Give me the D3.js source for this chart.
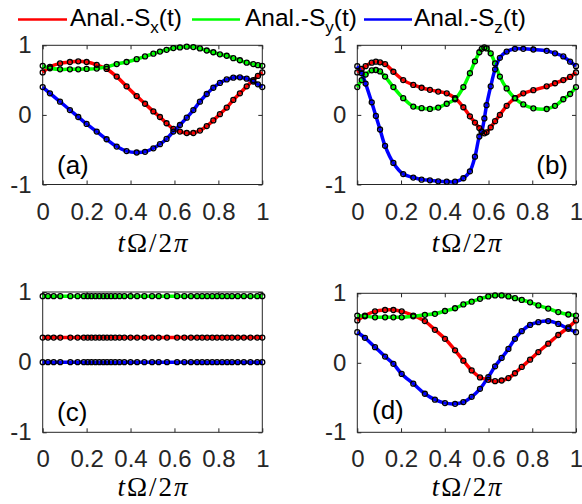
<!DOCTYPE html>
<html><head><meta charset="utf-8">
<script src="https://cdn.jsdelivr.net/npm/d3@7"></script>
<style>
html,body{margin:0;padding:0;background:#fff;}
svg{display:block;}
</style>
</head><body>
<svg id="chart" width="582" height="504"></svg>
<script>
// ---------- data ----------
const seriesNames = ["Anal.-S", "Anal.-S", "Anal.-S"];
const seriesSubs = ["x", "y", "z"];
const seriesColors = ["#ff0000", "#00ff00", "#0000ff"];
const panelLabels = ["(a)", "(b)", "(c)", "(d)"];
const xTickValues = [0, 0.2, 0.4, 0.6, 0.8, 1];
const xTickLabels = ["0", "0.2", "0.4", "0.6", "0.8", "1"];
const yTickValues = [-1, 0, 1];
const yTickLabels = ["-1", "0", "1"];

// panel (a)
const tA  = [0, 0.033, 0.079, 0.124, 0.162, 0.2, 0.246, 0.291, 0.337, 0.382, 0.428, 0.466, 0.504, 0.534, 0.564, 0.595, 0.625, 0.656, 0.686, 0.716, 0.747, 0.777, 0.807, 0.838, 0.868, 0.898, 0.929, 0.959, 0.98, 1];
const sxA = [0.61, 0.69, 0.74, 0.76, 0.77, 0.76, 0.72, 0.66, 0.55, 0.41, 0.27, 0.16, 0.05, -0.03, -0.12, -0.20, -0.24, -0.26, -0.26, -0.225, -0.16, -0.08, 0.01, 0.105, 0.215, 0.31, 0.41, 0.50, 0.56, 0.61];
const syA = [0.705, 0.67, 0.655, 0.655, 0.655, 0.66, 0.665, 0.69, 0.73, 0.76, 0.80, 0.84, 0.88, 0.91, 0.935, 0.96, 0.97, 0.98, 0.975, 0.955, 0.925, 0.90, 0.87, 0.85, 0.815, 0.785, 0.75, 0.73, 0.715, 0.705];
const szA = [0.40, 0.31, 0.19, 0.07, -0.03, -0.13, -0.24, -0.35, -0.455, -0.52, -0.54, -0.53, -0.48, -0.42, -0.345, -0.24, -0.145, -0.04, 0.07, 0.19, 0.30, 0.39, 0.46, 0.51, 0.535, 0.54, 0.52, 0.48, 0.44, 0.40];

// panel (b)
const tB  = [0, 0.020, 0.038, 0.066, 0.085, 0.104, 0.127, 0.165, 0.210, 0.256, 0.294, 0.332, 0.370, 0.409, 0.447, 0.485, 0.515, 0.538, 0.558, 0.569, 0.581, 0.591, 0.610, 0.630, 0.652, 0.683, 0.721, 0.759, 0.805, 0.866, 0.904, 0.942, 0.973, 1];
const sxB = [0.61, 0.66, 0.70, 0.75, 0.765, 0.755, 0.73, 0.62, 0.50, 0.43, 0.39, 0.36, 0.335, 0.31, 0.24, 0.11, -0.02, -0.11, -0.19, -0.24, -0.265, -0.25, -0.18, -0.09, 0.0, 0.13, 0.24, 0.31, 0.355, 0.41, 0.455, 0.50, 0.545, 0.61];
const syB = [0.40, 0.50, 0.58, 0.64, 0.645, 0.625, 0.55, 0.40, 0.24, 0.12, 0.096, 0.086, 0.105, 0.16, 0.225, 0.40, 0.60, 0.77, 0.90, 0.95, 0.97, 0.955, 0.885, 0.74, 0.55, 0.38, 0.24, 0.15, 0.095, 0.085, 0.13, 0.225, 0.30, 0.40];
const szB = [0.70, 0.60, 0.45, 0.18, -0.015, -0.21, -0.445, -0.69, -0.85, -0.90, -0.93, -0.94, -0.955, -0.96, -0.96, -0.91, -0.81, -0.60, -0.31, -0.24, -0.05, 0.14, 0.41, 0.655, 0.82, 0.91, 0.95, 0.95, 0.94, 0.92, 0.885, 0.84, 0.765, 0.70];

// panel (c)
const tC  = [0, 0.024, 0.05, 0.08, 0.126, 0.159, 0.187, 0.205, 0.222, 0.24, 0.258, 0.276, 0.293, 0.311, 0.33, 0.35, 0.372, 0.4, 0.43, 0.463, 0.498, 0.528, 0.566, 0.612, 0.645, 0.675, 0.703, 0.726, 0.749, 0.772, 0.794, 0.817, 0.84, 0.862, 0.888, 0.916, 0.946, 0.977, 1];
const sxC = [0.35, 0.35, 0.35, 0.35, 0.35, 0.35, 0.35, 0.35, 0.35, 0.35, 0.35, 0.35, 0.35, 0.35, 0.35, 0.35, 0.35, 0.35, 0.35, 0.35, 0.35, 0.35, 0.35, 0.35, 0.35, 0.35, 0.35, 0.35, 0.35, 0.35, 0.35, 0.35, 0.35, 0.35, 0.35, 0.35, 0.35, 0.35, 0.35];
const syC = [0.94, 0.94, 0.94, 0.94, 0.94, 0.94, 0.94, 0.94, 0.94, 0.94, 0.94, 0.94, 0.94, 0.94, 0.94, 0.94, 0.94, 0.94, 0.94, 0.94, 0.94, 0.94, 0.94, 0.94, 0.94, 0.94, 0.94, 0.94, 0.94, 0.94, 0.94, 0.94, 0.94, 0.94, 0.94, 0.94, 0.94, 0.94, 0.94];
const szC = [0, 0, 0, 0, 0, 0, 0, 0, 0, 0, 0, 0, 0, 0, 0, 0, 0, 0, 0, 0, 0, 0, 0, 0, 0, 0, 0, 0, 0, 0, 0, 0, 0, 0, 0, 0, 0, 0, 0];

// panel (d)
const tD  = [0, 0.035, 0.081, 0.127, 0.165, 0.203, 0.256, 0.309, 0.355, 0.401, 0.447, 0.485, 0.523, 0.561, 0.599, 0.63, 0.66, 0.691, 0.721, 0.752, 0.79, 0.828, 0.873, 0.919, 0.965, 1];
const sxD = [0.61, 0.68, 0.74, 0.76, 0.76, 0.74, 0.68, 0.60, 0.475, 0.345, 0.18, 0.03, -0.11, -0.21, -0.245, -0.265, -0.255, -0.22, -0.15, -0.06, 0.045, 0.155, 0.275, 0.40, 0.51, 0.61];
const syD = [0.68, 0.67, 0.655, 0.655, 0.655, 0.655, 0.67, 0.69, 0.705, 0.745, 0.785, 0.84, 0.88, 0.92, 0.955, 0.97, 0.97, 0.955, 0.93, 0.905, 0.87, 0.825, 0.78, 0.73, 0.695, 0.68];
const szD = [0.44, 0.36, 0.225, 0.09, -0.015, -0.16, -0.30, -0.445, -0.53, -0.58, -0.59, -0.565, -0.49, -0.375, -0.205, -0.05, 0.07, 0.20, 0.345, 0.455, 0.545, 0.585, 0.60, 0.56, 0.49, 0.44];

// ---------- layout ----------
const panels = [
  {t: tA, s: [sxA, syA, szA], x0: 42.7, x1: 262.3, y0: 45.3, y1: 184.5, xlY: 252, lab: {x: 57, y: 174, anchor: "start"}},
  {t: tB, s: [sxB, syB, szB], x0: 357.3, x1: 576, y0: 45.3, y1: 184.5, xlY: 252, lab: {x: 568, y: 174, anchor: "end"}},
  {t: tC, s: [sxC, syC, szC], x0: 42.7, x1: 262.3, y0: 292, y1: 432.3, xlY: 496, lab: {x: 57, y: 421, anchor: "start"}},
  {t: tD, s: [sxD, syD, szD], x0: 357.3, x1: 576, y0: 293.3, y1: 432.3, xlY: 496, lab: {x: 372, y: 419, anchor: "start"}}
];

const svg = d3.select("#chart");
const axisColor = "#262626";
const tickFont = "Liberation Sans, Arial, sans-serif";

panels.forEach((p, i) => {
  const x = d3.scaleLinear().domain([0, 1]).range([p.x0, p.x1]);
  const y = d3.scaleLinear().domain([-1, 1]).range([p.y1, p.y0]);
  const g = svg.append("g");

  // frame
  g.append("rect").attr("x", p.x0).attr("y", p.y0)
    .attr("width", p.x1 - p.x0).attr("height", p.y1 - p.y0)
    .attr("fill", "none").attr("stroke", axisColor).attr("stroke-width", 1);

  // axes
  const ax = d3.axisBottom(x).tickValues(xTickValues)
    .tickFormat((d, k) => xTickLabels[k]).tickSizeInner(-4).tickSizeOuter(0).tickPadding(18);
  const gx = g.append("g").attr("transform", `translate(0,${p.y1})`).call(ax);
  const axT = d3.axisTop(x).tickValues(xTickValues).tickFormat("").tickSizeInner(-4).tickSizeOuter(0);
  const gxt = g.append("g").attr("transform", `translate(0,${p.y0})`).call(axT);
  const ay = d3.axisLeft(y).tickValues(yTickValues)
    .tickFormat((d, k) => yTickLabels[k]).tickSizeInner(-4).tickSizeOuter(0).tickPadding(11);
  const gy = g.append("g").attr("transform", `translate(${p.x0},0)`).call(ay);
  const ayR = d3.axisRight(y).tickValues(yTickValues).tickFormat("").tickSizeInner(-4).tickSizeOuter(0);
  const gyr = g.append("g").attr("transform", `translate(${p.x1},0)`).call(ayR);
  [gx, gxt, gy, gyr].forEach(a => {
    a.select(".domain").remove();
    a.selectAll("line").attr("stroke", axisColor);
    a.selectAll("text").attr("fill", axisColor).style("font-family", tickFont).style("font-size", "24px");
  });

  // lines
  const clipId = "clip" + i;
  svg.append("clipPath").attr("id", clipId).append("rect")
    .attr("x", p.x0 - 5).attr("y", p.y0 - 5).attr("width", p.x1 - p.x0 + 10).attr("height", p.y1 - p.y0 + 10);
  const plot = g.append("g").attr("clip-path", `url(#${clipId})`);
  p.s.forEach((vals, k) => {
    const line = d3.line().x((d, j) => x(p.t[j])).y(d => y(d)).curve(d3.curveCatmullRom.alpha(0.5));
    plot.append("path").attr("d", line(vals)).attr("fill", "none")
      .attr("stroke", seriesColors[k]).attr("stroke-width", 3.5);
  });
  p.s.forEach((vals, k) => {
    plot.append("g").selectAll("circle").data(vals).join("circle")
      .attr("cx", (d, j) => x(p.t[j])).attr("cy", d => y(d)).attr("r", 2.5)
      .attr("fill", "none").attr("stroke", "#000").attr("stroke-width", 1.3);
  });

  // panel label
  g.append("text").attr("x", p.lab.x).attr("y", p.lab.y).attr("text-anchor", p.lab.anchor)
    .attr("fill", "#000").style("font-family", tickFont).style("font-size", "26px").text(panelLabels[i]);

  // x label tΩ/2π
  const xl = g.append("text").attr("x", (p.x0 + p.x1) / 2).attr("y", p.xlY)
    .attr("text-anchor", "middle").attr("fill", "#000")
    .attr("textLength", 70).attr("lengthAdjust", "spacing")
    .style("font-family", "Liberation Serif, DejaVu Serif, serif").style("font-size", "27px");
  xl.append("tspan").style("font-style", "italic").text("t");
  xl.append("tspan").text("Ω/2");
  xl.append("tspan").style("font-style", "italic").text("π");
});

// ---------- legend ----------
const legendX = [{l0: 18, l1: 67, tx: 70}, {l0: 192, l1: 240, tx: 245}, {l0: 364, l1: 412, tx: 414}];
const legY = 19.5;
seriesNames.forEach((name, k) => {
  const L = legendX[k];
  svg.append("line").attr("x1", L.l0).attr("x2", L.l1).attr("y1", legY).attr("y2", legY)
    .attr("stroke", seriesColors[k]).attr("stroke-width", 2.7);
  const tx = svg.append("text").attr("x", L.tx).attr("y", 25.5).attr("fill", "#000")
    .style("font-family", tickFont).style("font-size", "24.5px");
  tx.append("tspan").text(name);
  tx.append("tspan").attr("dy", 7).style("font-size", "17px").text(seriesSubs[k]);
  tx.append("tspan").attr("dy", -7).text("(t)");
});
</script>
</body></html>
